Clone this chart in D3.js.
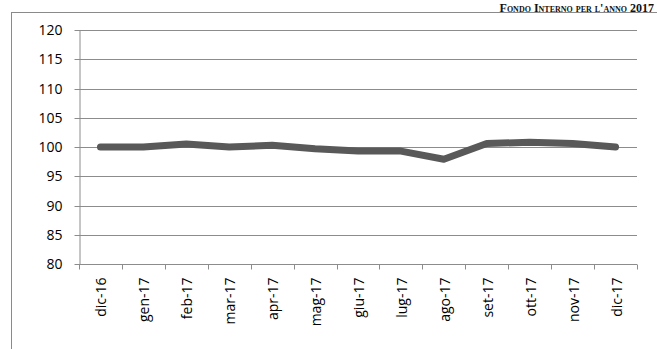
<!DOCTYPE html>
<html>
<head>
<meta charset="utf-8">
<script src="https://cdn.jsdelivr.net/npm/d3@7"></script>
<style>
  html, body { margin: 0; padding: 0; background: #fff; }
  svg { display: block; }
</style>
</head>
<body>
<svg id="chart" width="657" height="349"></svg>
<script>
// Monthly index of the internal fund, Dec 2016 – Dec 2017
const months = ["dic-16", "gen-17", "feb-17", "mar-17", "apr-17", "mag-17", "giu-17",
                "lug-17", "ago-17", "set-17", "ott-17", "nov-17", "dic-17"];
const values = [100, 100, 100.5, 100, 100.3, 99.7, 99.3, 99.3, 97.9, 100.6, 100.8, 100.6, 100];
const yTicks = [80, 85, 90, 95, 100, 105, 110, 115, 120];
const title = "Fondo Interno per l'anno 2017";

const svg = d3.select("#chart");
const W = 657, H = 349;
const plot = { left: 79, right: 637, top: 30, bottom: 264 };

// outer chart frame (runs off the right and bottom edges)
svg.append("rect")
  .attr("x", 11.5).attr("y", 12.5)
  .attr("width", W + 10).attr("height", H + 10)
  .attr("fill", "none").attr("stroke", "#8a8a8a").attr("stroke-width", 1);

// heading in the top-right corner
svg.append("text")
  .attr("x", 654).attr("y", 11.5)
  .attr("text-anchor", "end")
  .attr("font-family", "'Liberation Serif', 'DejaVu Serif', serif")
  .attr("font-weight", "bold")
  .attr("font-size", 12)
  .style("font-variant", "small-caps")
  .attr("fill", "#111")
  .text(title);

const x = d3.scaleBand().domain(months).range([plot.left, plot.right]).padding(0);
const y = d3.scaleLinear().domain([80, 120]).range([plot.bottom, plot.top]);

// horizontal gridlines
svg.append("g")
  .selectAll("line")
  .data(yTicks.filter(t => t !== 80))
  .join("line")
  .attr("x1", plot.left).attr("x2", plot.right)
  .attr("y1", d => Math.round(y(d)) + 0.5).attr("y2", d => Math.round(y(d)) + 0.5)
  .attr("stroke", "#8c8c8c").attr("stroke-width", 1);

// y axis
const yAxis = svg.append("g")
  .attr("transform", `translate(${plot.left + 0.5},0)`)
  .call(d3.axisLeft(y).tickValues(yTicks).tickSize(5).tickSizeOuter(0).tickPadding(12));
yAxis.select(".domain").attr("stroke", "#8c8c8c");
yAxis.selectAll(".tick line").attr("stroke", "#8c8c8c");
yAxis.selectAll(".tick").attr("transform", d => `translate(0,${Math.round(y(d)) + 0.5})`);
yAxis.selectAll("text")
  .attr("font-family", "'Open Sans', 'Liberation Sans', sans-serif")
  .attr("font-size", 14).attr("fill", "#000").attr("dy", "0.35em");

// x axis with ticks on category boundaries
const xg = svg.append("g").attr("transform", `translate(0,${Math.round(y(80)) + 0.5})`);
xg.append("line")
  .attr("x1", plot.left).attr("x2", plot.right)
  .attr("stroke", "#8c8c8c");
const bounds = months.map(m => x(m)).concat([x(months[months.length - 1]) + x.bandwidth()]);
xg.selectAll("line.tk")
  .data(bounds)
  .join("line").attr("class", "tk")
  .attr("x1", d => Math.round(d) + 0.5).attr("x2", d => Math.round(d) + 0.5)
  .attr("y1", 0).attr("y2", 5)
  .attr("stroke", "#8c8c8c");
xg.selectAll("text")
  .data(months)
  .join("text")
  .attr("transform", d => `translate(${x(d) + x.bandwidth() / 2 + 6},13) rotate(-90)`)
  .attr("text-anchor", "end")
  .attr("font-family", "'Open Sans', 'Liberation Sans', sans-serif")
  .attr("font-size", 14).attr("fill", "#000")
  .text(d => d);

// index line
const line = d3.line()
  .x((d, i) => x(months[i]) + x.bandwidth() / 2)
  .y(d => y(d));
svg.append("path")
  .datum(values)
  .attr("d", line)
  .attr("fill", "none")
  .attr("stroke", "#595959")
  .attr("stroke-width", 7)
  .attr("stroke-linejoin", "round")
  .attr("stroke-linecap", "round");
</script>
</body>
</html>
